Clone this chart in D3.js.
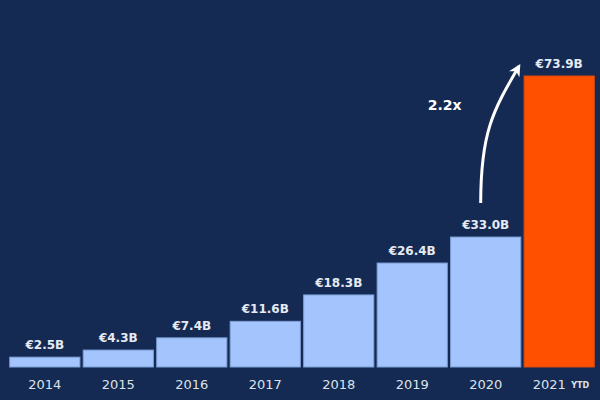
<!DOCTYPE html>
<html>
<head>
<meta charset="utf-8">
<script src="https://cdn.jsdelivr.net/npm/d3@7"></script>
<style>
  html, body { margin: 0; padding: 0; background: #142a52; }
  svg { display: block; }
</style>
</head>
<body>
<svg id="chart" width="600" height="400"></svg>
<script>
const years = ["2014", "2015", "2016", "2017", "2018", "2019", "2020", "2021"];
const values = [2.5, 4.3, 7.4, 11.6, 18.3, 26.4, 33.0, 73.9];
const valueLabels = ["€2.5B", "€4.3B", "€7.4B", "€11.6B", "€18.3B", "€26.4B", "€33.0B", "€73.9B"];
const growthLabel = "2.2x";

const width = 600, height = 400;
const margin = { top: 76, right: 5, bottom: 33, left: 9 };
const svg = d3.select("#chart");

svg.append("rect")
  .attr("width", width)
  .attr("height", height)
  .attr("fill", "#142a52");

const x = d3.scaleBand()
  .domain(years)
  .range([margin.left, width - margin.right])
  .paddingInner(0.045)
  .paddingOuter(0.01);

const y = d3.scaleLinear()
  .domain([0, 73.9])
  .range([height - margin.bottom, margin.top]);

const data = years.map((yr, i) => ({ year: yr, value: values[i], label: valueLabels[i] }));

svg.selectAll(".bar")
  .data(data)
  .join("rect")
  .attr("class", "bar")
  .attr("x", d => x(d.year))
  .attr("y", d => y(d.value))
  .attr("width", x.bandwidth())
  .attr("height", d => y(0) - y(d.value))
  .attr("fill", (d, i) => i === years.length - 1 ? "#ff5000" : "#a3c4fc")
  .attr("stroke", (d, i) => i === years.length - 1 ? "#d94a10" : "#7f9fd8")
  .attr("stroke-width", 1);

svg.selectAll(".value")
  .data(data)
  .join("text")
  .attr("class", "value")
  .attr("x", d => x(d.year) + x.bandwidth() / 2)
  .attr("y", d => y(d.value) - 8)
  .attr("text-anchor", "middle")
  .attr("font-family", "DejaVu Sans, sans-serif")
  .attr("font-weight", "bold")
  .attr("font-size", 12)
  .attr("fill", "#e6eaf2")
  .text(d => d.label);

// x axis labels
const axis = svg.append("g")
  .attr("transform", `translate(0,${height - margin.bottom})`)
  .call(d3.axisBottom(x).tickSize(0).tickPadding(13));
axis.select(".domain").remove();
axis.selectAll("text")
  .attr("font-family", "DejaVu Sans, sans-serif")
  .attr("font-size", 13)
  .attr("fill", "#dde2ea");

// YTD suffix on the last label
const last = axis.selectAll(".tick").filter(d => d === "2021");
last.select("text").attr("dx", -10);
last.append("text")
  .attr("x", 21)
  .attr("y", 15)
  .attr("dy", "0.71em")
  .attr("font-family", "DejaVu Sans, sans-serif")
  .attr("font-weight", "bold")
  .attr("font-size", 8)
  .attr("fill", "#dde2ea")
  .text("YTD");

// growth arrow from 2020 to 2021
const defs = svg.append("defs");
defs.append("marker")
  .attr("id", "head")
  .attr("viewBox", "0 0 10 10")
  .attr("refX", 8)
  .attr("refY", 5)
  .attr("markerWidth", 4)
  .attr("markerHeight", 4)
  .attr("orient", "auto")
  .append("path")
  .attr("d", "M0,0 L10,5 L0,10 L3,5 Z")
  .attr("fill", "#ffffff");

const x0 = x("2020") + x.bandwidth() / 2 - 5;
const yStart = y(values[6]) - 34;
const x1 = x("2021") - 5;
const yEnd = y(values[7]) - 10;
svg.append("path")
  .attr("d", `M${x0},${yStart} C${x0},${yStart - 70} ${x0 + 12},${yEnd + 45} ${x1},${yEnd}`)
  .attr("fill", "none")
  .attr("stroke", "#ffffff")
  .attr("stroke-width", 3)
  .attr("marker-end", "url(#head)");

svg.append("text")
  .attr("x", x0 - 36)
  .attr("y", 110)
  .attr("text-anchor", "middle")
  .attr("font-family", "DejaVu Sans, sans-serif")
  .attr("font-weight", "bold")
  .attr("font-size", 14)
  .attr("fill", "#ffffff")
  .text(growthLabel);
</script>
</body>
</html>
